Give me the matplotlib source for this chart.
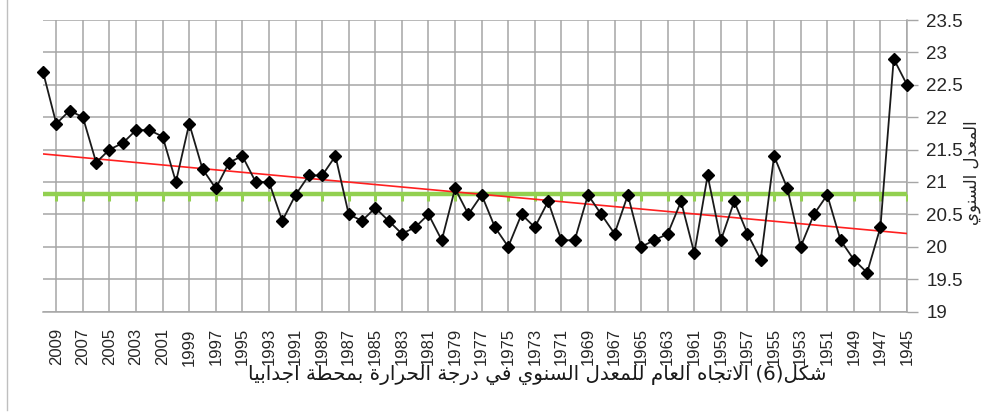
import numpy as np
import matplotlib
matplotlib.use("Agg")
import matplotlib.pyplot as plt

# ---------------- data ----------------
years = list(range(2010, 1944, -1))
temps = [22.7, 21.9, 22.1, 22.0, 21.3, 21.5, 21.6, 21.8, 21.8, 21.7,
         21.0, 21.9, 21.2, 20.9, 21.3, 21.4, 21.0, 21.0, 20.4, 20.8,
         21.1, 21.1, 21.4, 20.5, 20.4, 20.6, 20.4, 20.2, 20.3, 20.5,
         20.1, 20.9, 20.5, 20.8, 20.3, 20.0, 20.5, 20.3, 20.7, 20.1,
         20.1, 20.8, 20.5, 20.2, 20.8, 20.0, 20.1, 20.2, 20.7, 19.9,
         21.1, 20.1, 20.7, 20.2, 19.8, 21.4, 20.9, 20.0, 20.5, 20.8,
         20.1, 19.8, 19.6, 20.3, 22.9, 22.5]
xtick_years = list(range(2009, 1944, -2))
ytick_vals = [19, 19.5, 20, 20.5, 21, 21.5, 22, 22.5, 23, 23.5]
ytick_labels = ["19", "19.5", "20", "20.5", "21", "21.5", "22", "22.5", "23", "23.5"]
caption = "شكل(6) الاتجاه العام للمعدل السنوي في درجة الحرارة بمحطة اجدابيا"
ylabel = "المعدل السنوي"

# ---------------- simple Arabic shaping ----------------
FORMS = {
    'ا': (0xFE8D, 0xFE8E, None, None),
    'أ': (0xFE83, 0xFE84, None, None),
    'ب': (0xFE8F, 0xFE90, 0xFE91, 0xFE92),
    'ة': (0xFE93, 0xFE94, None, None),
    'ت': (0xFE95, 0xFE96, 0xFE97, 0xFE98),
    'ج': (0xFE9D, 0xFE9E, 0xFE9F, 0xFEA0),
    'ح': (0xFEA1, 0xFEA2, 0xFEA3, 0xFEA4),
    'د': (0xFEA9, 0xFEAA, None, None),
    'ذ': (0xFEAB, 0xFEAC, None, None),
    'ر': (0xFEAD, 0xFEAE, None, None),
    'س': (0xFEB1, 0xFEB2, 0xFEB3, 0xFEB4),
    'ش': (0xFEB5, 0xFEB6, 0xFEB7, 0xFEB8),
    'ط': (0xFEC1, 0xFEC2, 0xFEC3, 0xFEC4),
    'ع': (0xFEC9, 0xFECA, 0xFECB, 0xFECC),
    'ف': (0xFED1, 0xFED2, 0xFED3, 0xFED4),
    'ك': (0xFED9, 0xFEDA, 0xFEDB, 0xFEDC),
    'ل': (0xFEDD, 0xFEDE, 0xFEDF, 0xFEE0),
    'م': (0xFEE1, 0xFEE2, 0xFEE3, 0xFEE4),
    'ن': (0xFEE5, 0xFEE6, 0xFEE7, 0xFEE8),
    'ه': (0xFEE9, 0xFEEA, 0xFEEB, 0xFEEC),
    'و': (0xFEED, 0xFEEE, None, None),
    'ي': (0xFEF1, 0xFEF2, 0xFEF3, 0xFEF4),
}


def dual(c):
    return c in FORMS and FORMS[c][2] is not None


def shape(text):
    out = []
    i = 0
    n = len(text)
    while i < n:
        c = text[i]
        if c not in FORMS:
            out.append(c)
            i += 1
            continue
        prev = text[i - 1] if i > 0 else ''
        joins_prev = dual(prev)
        # lam-alef ligature
        if c == 'ل' and i + 1 < n and text[i + 1] in ('ا', 'أ'):
            if text[i + 1] == 'ا':
                out.append(chr(0xFEFC if joins_prev else 0xFEFB))
            else:
                out.append(chr(0xFEF8 if joins_prev else 0xFEF7))
            i += 2
            continue
        nxt = text[i + 1] if i + 1 < n else ''
        joins_next = dual(c) and nxt in FORMS
        iso, fin, ini, med = FORMS[c]
        if joins_prev and joins_next:
            out.append(chr(med))
        elif joins_prev:
            out.append(chr(fin))
        elif joins_next:
            out.append(chr(ini))
        else:
            out.append(chr(iso))
        i += 1
    vis = ''.join(out)[::-1]
    vis = vis.translate(str.maketrans('()', ')('))
    # keep digit runs left-to-right
    res, run = [], []
    for ch in vis:
        if ch.isdigit():
            run.append(ch)
        else:
            if run:
                res.extend(run[::-1]); run = []
            res.append(ch)
    if run:
        res.extend(run[::-1])
    return ''.join(res)


# ---------------- figure ----------------
W, H = 990, 415
fig = plt.figure(figsize=(W / 100, H / 100), dpi=100)
ax = fig.add_axes([43 / W, 1 - 311.5 / H, (907 - 43) / W, (311.5 - 20) / H])

grid_c = '#a6a6a6'
ax.set_xlim(2010, 1945)
ax.set_ylim(19, 23.5)
ax.set_yticks(ytick_vals)
ax.set_yticklabels(ytick_labels, fontsize=13.5, family=['Liberation Sans', 'DejaVu Sans'], color='#262626')
ax.set_xticks(xtick_years)
ax.set_xticklabels([str(y) for y in xtick_years], rotation=90, fontsize=12,
                   family=['Liberation Sans', 'DejaVu Sans'], color='#262626')
ax.yaxis.tick_right()
ax.tick_params(axis='y', direction='out', length=8, color=grid_c, width=1, pad=6)
ax.tick_params(axis='x', length=0, pad=12)
ax.grid(True, color=grid_c, linewidth=1.1)
ax.set_axisbelow(True)
for s in ('left', 'top'):
    ax.spines[s].set_visible(False)
for s in ('right', 'bottom'):
    ax.spines[s].set_color(grid_c)
    ax.spines[s].set_linewidth(1.1)

yrs = np.array(years, dtype=float)
vals = np.array(temps)

# mean line with tick marks
mean_v = vals.mean()
ax.plot([2010, 1945], [mean_v, mean_v], color='#92d050', linewidth=3.2, zorder=3,
        solid_capstyle='butt')
ax.plot(xtick_years, [mean_v] * len(xtick_years), linestyle='none', marker=3,
        markersize=5, markeredgewidth=2.2, color='#92d050', zorder=3)

# trend line
slope, intercept = np.polyfit(yrs, vals, 1)
ax.plot([2010, 1945], [slope * 2010 + intercept, slope * 1945 + intercept],
        color='#ff2020', linewidth=1.2, zorder=4)

# data
ax.plot(yrs, vals, color='#1a1a1a', linewidth=1.3, marker='D', markersize=6.5,
        markerfacecolor='black', markeredgecolor='black', zorder=5, clip_on=False)

# y label
fig.text(972 / W, 1 - 173 / H, shape(ylabel), rotation=90, ha='center', va='center',
         fontsize=12, family=['DejaVu Sans'], color='#262626')

# caption
fig.text(537 / W, 1 - 375 / H, shape(caption), ha='center', va='center',
         fontsize=14.3, family=['DejaVu Sans'], color='#1a1a1a')

# frame line at left
fig.add_artist(plt.Line2D([7 / W, 7 / W], [1 - 410 / H, 1], color='#bfbfbf',
                          linewidth=1, transform=fig.transFigure))

fig.savefig('out.png', dpi=100)
